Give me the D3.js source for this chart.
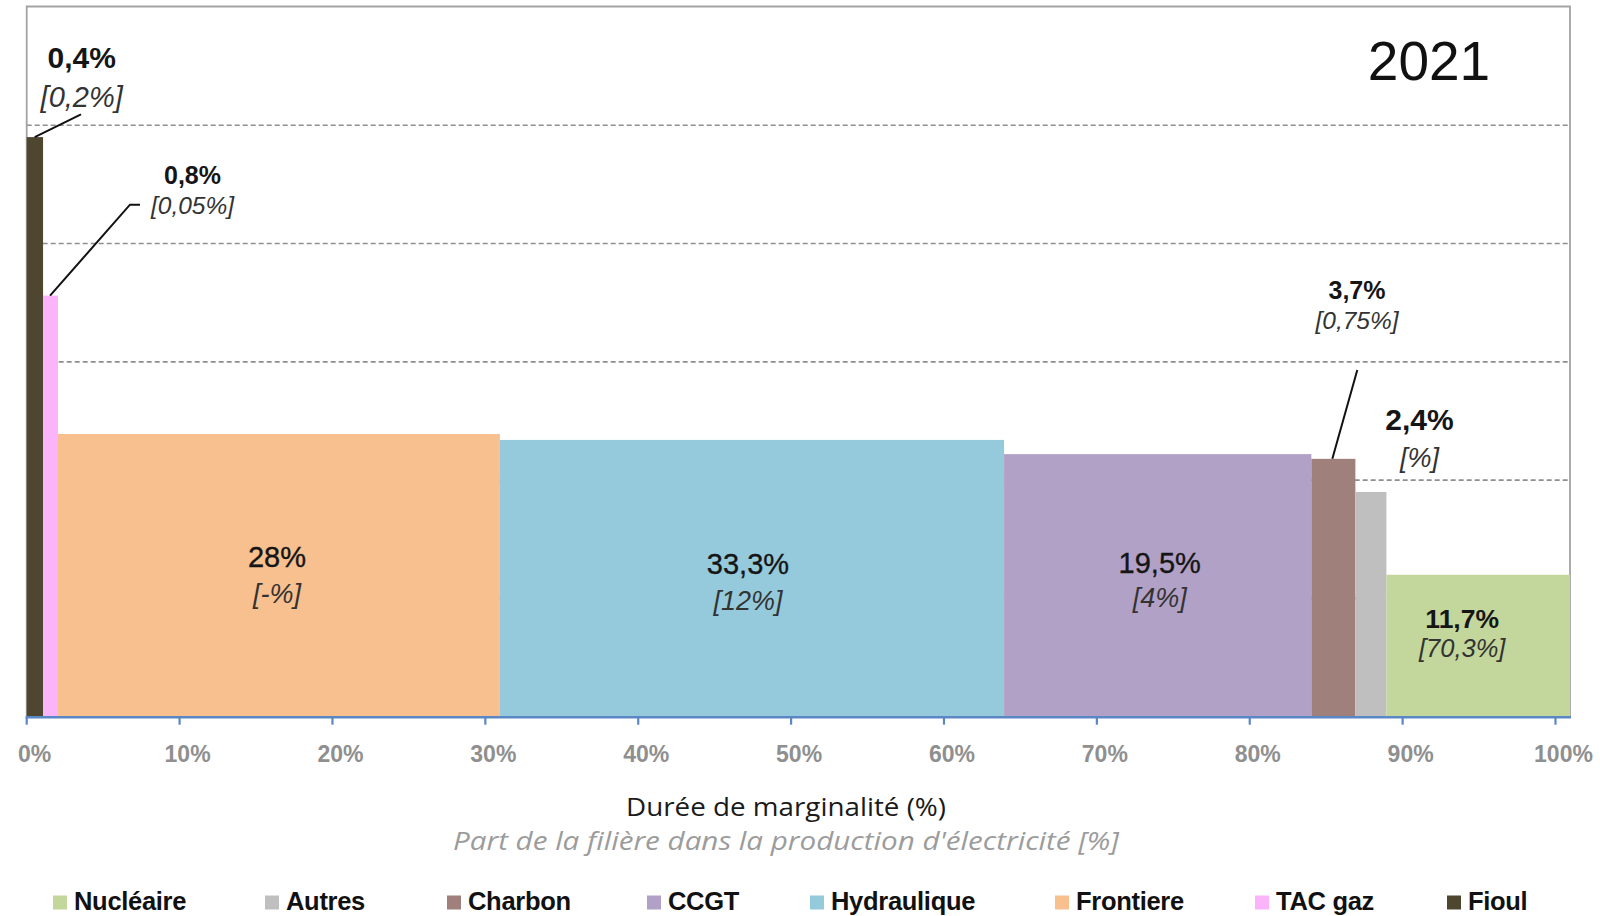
<!DOCTYPE html>
<html>
<head>
<meta charset="utf-8">
<script src="https://cdn.jsdelivr.net/npm/d3@7"></script>
<style>
  html, body { margin: 0; padding: 0; background: #ffffff; }
  svg { display: block; }
</style>
</head>
<body>
<svg id="chart" width="1600" height="916"></svg>
<script>
// ---- Data ----
const filieres   = ["Fioul", "TAC gaz", "Frontiere", "Hydraulique", "CCGT", "Charbon", "Autres", "Nucléaire"];
const durees     = [1.07, 0.98, 28.9, 32.98, 20.1, 2.88, 2.03, 12.0];   // drawn width (% of time)
const niveaux    = [245, 178, 119.5, 117, 111, 109, 95, 60];             // bar height (y units, grid every 50)
const labelsDuree = ["0,4%", "0,8%", "28%", "33,3%", "19,5%", "3,7%", "2,4%", "11,7%"];
const labelsPart  = ["[0,2%]", "[0,05%]", "[-%]", "[12%]", "[4%]", "[0,75%]", "[%]", "[70,3%]"];
const couleurs   = ["#4f4630", "#fbb4f9", "#f8bf8f", "#94cadc", "#b2a1c6", "#a0807a", "#bfbfbf", "#c3d69b"];
const legendeOrdre = ["Nucléaire", "Autres", "Charbon", "CCGT", "Hydraulique", "Frontiere", "TAC gaz", "Fioul"];
const xTicks = [0, 10, 20, 30, 40, 50, 60, 70, 80, 90, 100];
const yGrid  = [50, 100, 150, 200, 250];
const annee = "2021";
const titreX = "Durée de marginalité (%)";
const sousTitreX = "Part de la filière dans la production d'électricité [%]";

// ---- Scales ----
const svg = d3.select("#chart");
const x = d3.scaleLinear().domain([0, 100]).range([26.7, 1555.5]);
const y = d3.scaleLinear().domain([0, 300]).range([716.7, 7]);
const plotRight = 1570;

// cumulative positions
let acc = 0;
const bars = filieres.map((f, i) => {
  const d = { name: f, x0: acc, x1: acc + durees[i], v: niveaux[i], color: couleurs[i],
              lab: labelsDuree[i], part: labelsPart[i] };
  acc += durees[i];
  return d;
});

const FONT = "'Liberation Sans', Arial, sans-serif";

// ---- Gridlines ----
svg.append("g").selectAll("line").data(yGrid).join("line")
  .attr("x1", x(0)).attr("x2", plotRight)
  .attr("y1", d => y(d)).attr("y2", d => y(d))
  .attr("stroke", "#8f8f8f").attr("stroke-width", 1.6)
  .attr("stroke-dasharray", "5,3");

// ---- Frame ----
svg.append("path")
  .attr("d", `M${x(0)},${y(0)} V6.5 H${plotRight} V${y(0)}`)
  .attr("fill", "none").attr("stroke", "#a3a3a3").attr("stroke-width", 1.8);

// ---- Bars ----
svg.append("g").selectAll("rect").data(bars).join("rect")
  .attr("x", d => x(d.x0))
  .attr("width", d => Math.max(0, (d.name === "Nucléaire" ? plotRight : x(d.x1)) - x(d.x0)))
  .attr("y", d => y(d.v))
  .attr("height", d => y(0) - y(d.v))
  .attr("fill", d => d.color);

// ---- X axis ----
const axisG = svg.append("g");
axisG.append("line")
  .attr("x1", x(0) - 1).attr("x2", plotRight + 1)
  .attr("y1", y(0) + 0.5).attr("y2", y(0) + 0.5)
  .attr("stroke", "#5a88c4").attr("stroke-width", 2.5);
axisG.selectAll("line.tick").data(xTicks).join("line").attr("class", "tick")
  .attr("x1", d => x(d)).attr("x2", d => x(d))
  .attr("y1", y(0)).attr("y2", y(0) + 8)
  .attr("stroke", "#5a88c4").attr("stroke-width", 2.2);
axisG.selectAll("text").data(xTicks).join("text")
  .attr("x", d => x(d) + 8).attr("y", 762)
  .attr("text-anchor", "middle")
  .attr("font-family", FONT).attr("font-weight", "bold").attr("font-size", 23)
  .attr("fill", "#8f8f8f")
  .text(d => d + "%");

// ---- Axis titles ----
svg.append("text").attr("x", 786).attr("y", 816)
  .attr("text-anchor", "middle").attr("font-family", "'Open Sans', sans-serif")
  .attr("font-size", 26).attr("fill", "#1a1a1a")
  .attr("textLength", 320).attr("lengthAdjust", "spacingAndGlyphs").text(titreX);
svg.append("text").attr("x", 786).attr("y", 850)
  .attr("text-anchor", "middle").attr("font-family", "'Open Sans', sans-serif")
  .attr("font-style", "italic").attr("font-size", 26).attr("fill", "#9c9c9c")
  .attr("textLength", 666).attr("lengthAdjust", "spacingAndGlyphs").text(sousTitreX);

// ---- Year ----
svg.append("text").attr("x", 1429).attr("y", 80)
  .attr("text-anchor", "middle").attr("font-family", FONT)
  .attr("font-size", 55).attr("fill", "#111").text(annee);

// ---- Bar labels ----
const byName = Object.fromEntries(bars.map(b => [b.name, b]));
function label(b, cx, yTop, ySub, sizeTop, sizeSub, boldTop) {
  svg.append("text").attr("x", cx).attr("y", yTop).attr("text-anchor", "middle")
    .attr("font-family", FONT).attr("font-size", sizeTop)
    .attr("font-weight", boldTop ? "bold" : "normal")
    .attr("fill", "#151515")
    .attr("stroke", boldTop ? "none" : "#151515").attr("stroke-width", boldTop ? 0 : 0.35)
    .text(b.lab);
  svg.append("text").attr("x", cx).attr("y", ySub).attr("text-anchor", "middle")
    .attr("font-family", FONT).attr("font-size", sizeSub).attr("font-style", "italic")
    .attr("fill", "#333333").text(b.part);
}
// inside bars (centred on the bar)
const mid = b => (x(b.x0) + x(b.x1)) / 2;
label(byName["Frontiere"], mid(byName["Frontiere"]) - 2, 567, 603, 29, 27, false);
label(byName["Hydraulique"], mid(byName["Hydraulique"]) - 4, 574, 610, 29, 27, false);
label(byName["CCGT"], mid(byName["CCGT"]) + 2, 572.5, 607, 29, 27, false);
label(byName["Nucléaire"], (x(byName["Nucléaire"].x0) + plotRight) / 2 - 16, 628, 657, 26.5, 25.5, true);
// outside labels with leaders
label(byName["Fioul"], 81.7, 68.4, 106.5, 30, 29, true);
label(byName["TAC gaz"], 192.5, 184.3, 213.6, 25, 24.5, true);
label(byName["Charbon"], 1357, 299.3, 329.3, 25, 24.5, true);
label(byName["Autres"], 1419.5, 430, 466.7, 30, 27, true);

// leader lines
const leaders = [
  [[81, 114.3], [x(byName["Fioul"].x0) + 8, y(byName["Fioul"].v)]],
  [[140, 204.7], [130, 204.7], [x(byName["TAC gaz"].x0) + 7, y(byName["TAC gaz"].v)]],
  [[1357.3, 370], [x(byName["Charbon"].x0) + 21, y(byName["Charbon"].v)]]
];
svg.append("g").selectAll("path").data(leaders).join("path")
  .attr("d", d => d3.line()(d))
  .attr("fill", "none").attr("stroke", "#111").attr("stroke-width", 2);

// ---- Legend ----
const legendX = [53, 265, 447, 647, 810, 1055, 1255, 1447];
const legend = svg.append("g").selectAll("g").data(legendeOrdre).join("g")
  .attr("transform", (d, i) => `translate(${legendX[i]},0)`);
legend.append("rect").attr("x", 0).attr("y", 895.5).attr("width", 14).attr("height", 14)
  .attr("fill", d => couleurs[filieres.indexOf(d)]);
legend.append("text").attr("x", 21).attr("y", 910)
  .attr("font-family", FONT).attr("font-weight", "bold").attr("font-size", 25.5)
  .attr("letter-spacing", -0.3).attr("fill", "#111").text(d => d);
</script>
</body>
</html>
